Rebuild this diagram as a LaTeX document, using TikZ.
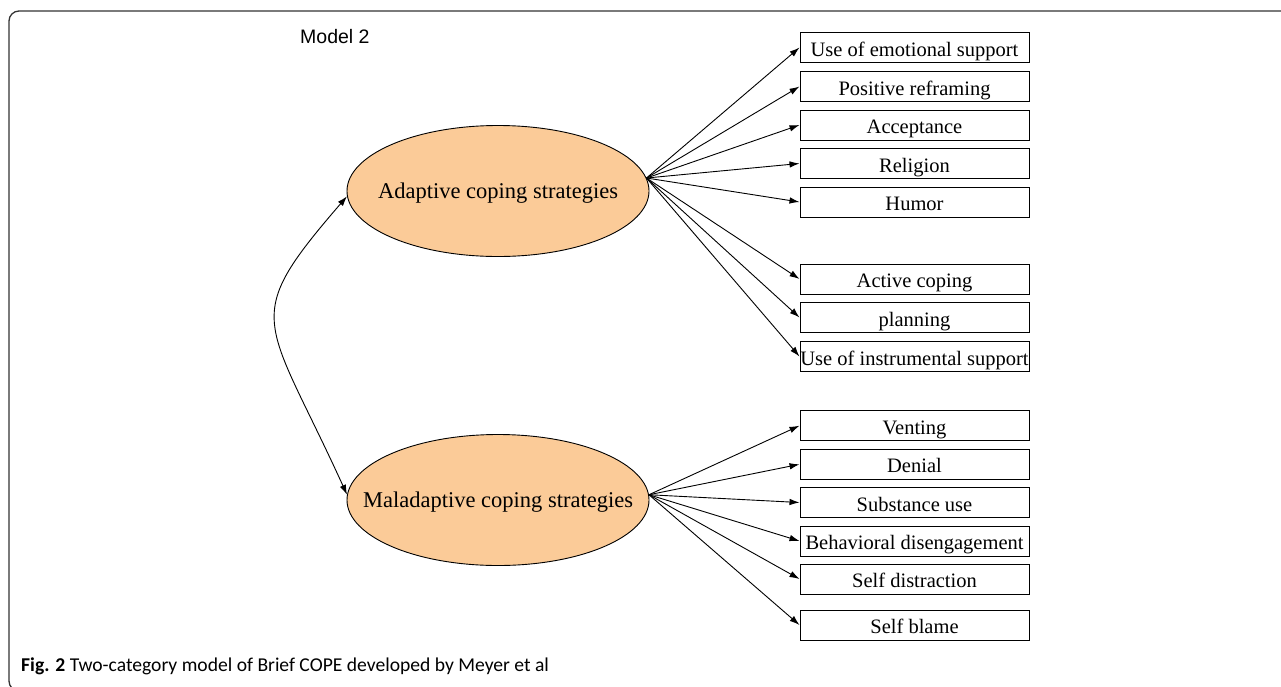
\documentclass[tikz,border=0pt]{standalone}
\usepackage{fontspec}
\setmainfont{Liberation Serif}
\newfontfamily\modelfont{Liberation Sans}
\newfontfamily\capfont{Carlito}
\usetikzlibrary{shapes.geometric}
\usetikzlibrary{arrows.meta}

\definecolor{peach}{HTML}{FBCB98}

\tikzset{
  item/.style={draw, line width=1pt, minimum width=229pt, minimum height=30pt,
               inner sep=0pt, text height=18pt, text depth=1pt,
               font=\fontsize{20.5}{22}\selectfont},
  factor/.style={ellipse, draw, line width=0.9pt, fill=peach, minimum width=302pt,
                 minimum height=131pt, inner sep=0pt},
  factortext/.style={inner sep=0pt, text height=16pt, text depth=2pt,
                     font=\fontsize{22.5}{25}\selectfont},
  load/.style={-{Latex[length=10pt,width=6.5pt]}, line width=0.9pt},
}

\begin{document}
\begin{tikzpicture}[x=1pt, y=-1pt]
\useasboundingbox (0,0) rectangle (1281,686);

  % frame
  \draw[rounded corners=10pt, line width=1.3pt, black!80] (1300,11) -- (9,11) -- (9,691) -- (1300,691);
  \node[anchor=base west, inner sep=0pt, font=\modelfont\fontsize{19.5}{22}\selectfont]
       (title) at (300,43.3) {Model 2};

  % latent factors
  \node[factor, label={[factortext]center:Adaptive coping strategies}]    (adapt) at (498,191) {};
  \node[factor, label={[factortext]center:Maladaptive coping strategies}] (mal)   at (498,500) {};

  % adaptive items
  \begin{scope}[every node/.style=item]
  \node (emo)    at (914.5,47.5)  {Use of emotional support};
  \node (posre)  at (914.5,86.5)  {Positive reframing};
  \node (accept) at (914.5,125)   {Acceptance};
  \node (relig)  at (914.5,163.5) {Religion};
  \node (humor)  at (914.5,202)   {Humor};
  \node (active) at (914.5,279)   {Active coping};
  \node (plan)   at (914.5,317.5) {planning};
  \node (instr)  at (914.5,356.5) {Use of instrumental support};
  \end{scope}

  % maladaptive items
  \begin{scope}[every node/.style=item]
  \node (vent)  at (914.5,425.7) {Venting};
  \node (deny)  at (914.5,464.3) {Denial};
  \node (subst) at (914.5,502.5) {Substance use};
  \node (behav) at (914.5,541)   {Behavioral disengagement};
  \node (distr) at (914.5,579)   {Self distraction};
  \node (blame) at (914.5,625)   {Self blame};
  \end{scope}

  \foreach \b in {emo,posre,accept,relig,humor,active,plan,instr}
    \draw[load] (adapt.5) -- (\b.west);
  \foreach \b in {vent,deny,subst,behav,distr,blame}
    \draw[load] (mal.2) -- (\b.west);

  % correlation
  \draw[{Latex[length=10pt,width=6.5pt]}-{Latex[length=10pt,width=6.5pt]}, line width=0.9pt]
       (adapt.182) .. controls +(-108,125) and +(-82,-180) .. (mal.178);

  % caption
  \node[anchor=base west, inner sep=0pt, font=\capfont\fontsize{19.6}{22}\selectfont]
       (caption) at (21,671.5) {\textbf{Fig. 2} Two-category model of Brief COPE developed by Meyer et al};

\end{tikzpicture}
\end{document}
